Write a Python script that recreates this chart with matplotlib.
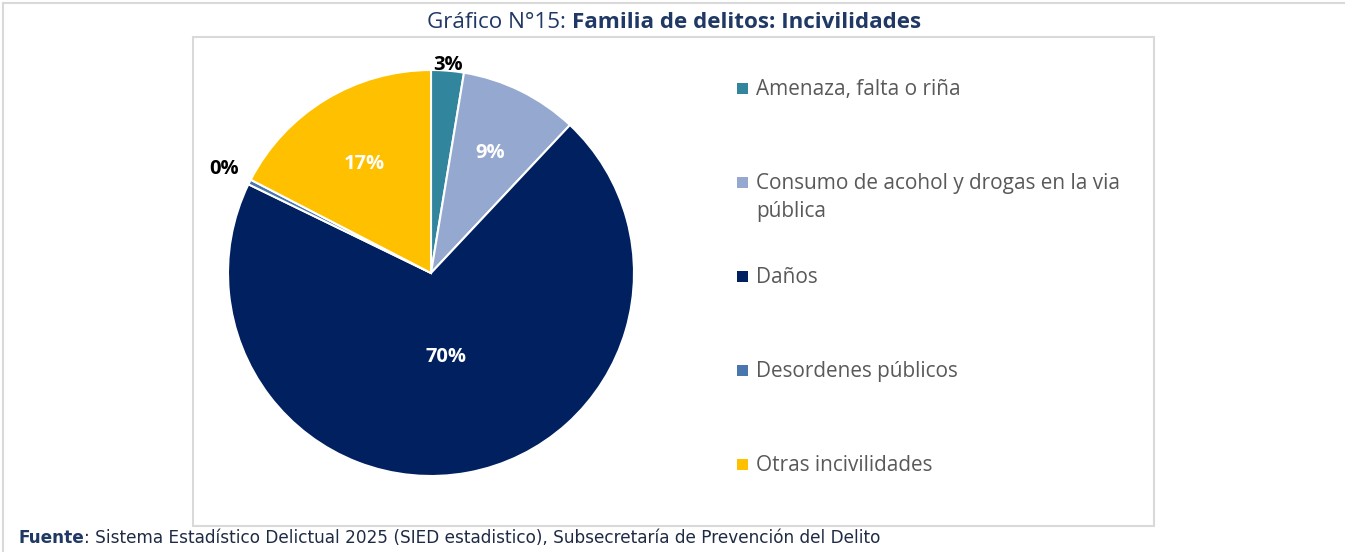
import matplotlib.pyplot as plt
from matplotlib.patches import Rectangle
from matplotlib.lines import Line2D
import numpy as np

categories = [
    "Amenaza, falta o riña",
    "Consumo de acohol y drogas en la via\npública",
    "Daños",
    "Desordenes públicos",
    "Otras incivilidades",
]
shares = [2.6, 9.4, 70.2, 0.4, 17.4]
colors = ["#31859C", "#95A9D0", "#002060", "#4A76AE", "#FFC000"]

title_regular = "Gráfico N°15: "
title_bold = "Familia de delitos: Incivilidades"
source_bold = "Fuente"
source_regular = ": Sistema Estadístico Delictual 2025 (SIED estadistico), Subsecretaría de Prevención del Delito"

W, H = 1345, 552
plt.rcParams["font.family"] = ["Open Sans", "DejaVu Sans"]

fig = plt.figure(figsize=(W / 100, H / 100), dpi=100)
renderer = fig.canvas.get_renderer()


def fx(x):
    return x / W


def fy(y):
    return 1 - y / H


def fit(texts, target, size):
    # scale a row of text pieces so it spans the target width in pixels
    w = sum(t.get_window_extent(renderer).width for t in texts)
    for t in texts:
        t.set_fontsize(size * target / w)


# grey frames
grey = "#D9D9D9"
fig.add_artist(Line2D([fx(3), fx(3)], [fy(3), fy(H)], color=grey, lw=1.5))
fig.add_artist(Line2D([fx(3), fx(W)], [fy(3), fy(3)], color=grey, lw=1.5))
fig.add_artist(Rectangle((fx(193), fy(526)), fx(1154) - fx(193), fy(37) - fy(526),
                         fill=False, ec=grey, lw=1.5, transform=fig.transFigure))

# pie
cx, cy, r = 431, 273, 203
ax = fig.add_axes([fx(cx - r), fy(cy + r), 2 * r / W, 2 * r / H])
wedges, _ = ax.pie(shares, colors=colors, startangle=90, counterclock=False,
                   wedgeprops=dict(edgecolor="white", linewidth=1.5))
ax.set_xlim(-1, 1)
ax.set_ylim(-1, 1)
ax.axis("off")

label_dist = [1.03, 0.66, 0.42, 1.14, 0.63]
for w, v, d in zip(wedges, shares, label_dist):
    mid = np.deg2rad((w.theta1 + w.theta2) / 2)
    outside = d > 1
    ax.text(d * np.cos(mid), d * np.sin(mid), f"{round(v)}%",
            ha="center", va="center", fontsize=14.5, fontweight="bold",
            color="black" if outside else "white")

# legend
baselines = [95, 189, 283, 377, 471]
line_gap = 28
probe = fig.text(0, 0, categories[0], fontsize=14)
fit([probe], 205, 14)
leg_size = probe.get_fontsize()
probe.remove()
for lab, col, yb in zip(categories, colors, baselines):
    fig.add_artist(Rectangle((fx(737), fy(yb - 1)), 11 / W, 11 / H,
                             fc=col, ec="none", transform=fig.transFigure))
    for i, line in enumerate(lab.split("\n")):
        fig.text(fx(756), fy(yb + i * line_gap), line, ha="left", va="baseline",
                 fontsize=leg_size, color="#595959")

# title and source, regular + bold pieces
t1 = fig.text(0, fy(28), title_regular, fontsize=15, color="#1F3864", va="baseline")
t2 = fig.text(0, fy(28), title_bold, fontsize=15, color="#1F3864", va="baseline",
              fontweight="bold")
fit([t1, t2], 493, 15)
w1 = t1.get_window_extent(renderer).width
t1.set_x(fx(427))
t2.set_x(fx(427 + w1))

s1 = fig.text(fx(18), fy(543), source_bold, fontsize=11, color="#1F3864",
              va="baseline", fontweight="bold", family=["DejaVu Sans"])
s2 = fig.text(0, fy(543), source_regular, fontsize=11, color="#1F2A44",
              va="baseline", family=["DejaVu Sans"])
fit([s1, s2], 865, 11)
ws = s1.get_window_extent(renderer).width
s2.set_x(fx(18 + ws))

fig.savefig("out.png", dpi=100, facecolor="white")
